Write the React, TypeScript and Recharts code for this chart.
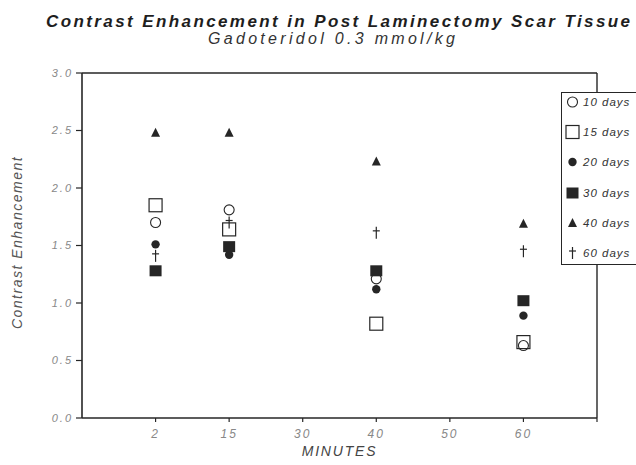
import React from "react";
import {
    ScatterChart,
    Scatter,
    XAxis,
    YAxis,
    Legend,
    ReferenceLine,
} from "recharts";

// x axis categories (minutes after injection)
const minuteLabels = ["2", "15", "30", "40", "50", "60"];
// minutes at which measurements were taken
const sampledMinutes = ["2", "15", "40", "60"];

// contrast enhancement per post-op interval
const days10 = [1.7, 1.81, 1.21, 0.63];
const days15 = [1.85, 1.64, 0.82, 0.66];
const days20 = [1.51, 1.42, 1.12, 0.89];
const days30 = [1.28, 1.49, 1.28, 1.02];
const days40 = [2.48, 2.48, 2.23, 1.69];
const days60 = [1.41, 1.7, 1.61, 1.45];

const yTicks = [0, 0.5, 1, 1.5, 2, 2.5, 3];

const INK = "#262626";
const FONT = "'Liberation Sans', Arial, sans-serif";

type Marker = "openCircle" | "openSquare" | "dot" | "square" | "triangle" | "dagger";

const drawMarker = (kind: Marker, cx: number, cy: number) => {
    switch (kind) {
        case "openCircle":
            return <circle cx={cx} cy={cy} r={5} fill="none" stroke={INK} strokeWidth={1.1} />;
        case "openSquare":
            return <rect x={cx - 6.5} y={cy - 6.5} width={13} height={13} fill="none" stroke={INK} strokeWidth={1.2} />;
        case "dot":
            return <circle cx={cx} cy={cy} r={4.2} fill={INK} />;
        case "square":
            return <rect x={cx - 6} y={cy - 5.5} width={12} height={11} fill={INK} />;
        case "triangle":
            return (
                <polygon
                    points={`${cx},${cy - 5} ${cx - 4.5},${cy + 4} ${cx + 4.5},${cy + 4}`}
                    fill={INK}
                />
            );
        case "dagger":
            return (
                <g stroke={INK} strokeWidth={1.2}>
                    <line x1={cx} y1={cy - 6} x2={cx} y2={cy + 6} />
                    <line x1={cx - 3.5} y1={cy - 2} x2={cx + 3.5} y2={cy - 2} />
                </g>
            );
    }
};

const toPoints = (vals: number[]) =>
    sampledMinutes.map((m, i) => ({ x: minuteLabels.indexOf(m) + 1, y: vals[i] }));

const series: { name: string; marker: Marker; values: number[] }[] = [
    { name: "10 days", marker: "openCircle", values: days10 },
    { name: "15 days", marker: "openSquare", values: days15 },
    { name: "20 days", marker: "dot", values: days20 },
    { name: "30 days", marker: "square", values: days30 },
    { name: "40 days", marker: "triangle", values: days40 },
    { name: "60 days", marker: "dagger", values: days60 },
];

const LegendBox = () => (
    <div
        style={{
            position: "relative",
            width: 75,
            height: 173,
            boxSizing: "border-box",
            border: `1.5px solid ${INK}`,
            borderRight: "none",
            background: "#fff",
            overflow: "hidden",
        }}
    >
        {series.map((s, i) => (
            <div
                key={s.name}
                style={{
                    position: "absolute",
                    left: 0,
                    top: 1 + i * 30.2,
                    height: 16,
                    display: "flex",
                    alignItems: "center",
                    whiteSpace: "nowrap",
                }}
            >
                <svg width={21} height={16} style={{ flex: "none" }}>
                    {drawMarker(s.marker, 10.5, 8)}
                </svg>
                <span
                    style={{
                        fontFamily: FONT,
                        fontStyle: "italic",
                        fontSize: 11.5,
                        letterSpacing: 1,
                        lineHeight: "16px",
                        color: "#333",
                    }}
                >
                    {s.name}
                </span>
            </div>
        ))}
    </div>
);

const YLabel = (props: any) => {
    const { viewBox } = props;
    const cy = viewBox.y + viewBox.height / 2 - 3;
    return (
        <text
            x={17}
            y={cy}
            transform={`rotate(-90, 17, ${cy})`}
            textAnchor="middle"
            dominantBaseline="central"
            fontFamily={FONT}
            fontStyle="italic"
            fontSize={14}
            letterSpacing={1.5}
            fill="#555"
        >
            Contrast Enhancement
        </text>
    );
};

const tickStyle = {
    fontFamily: FONT,
    fontStyle: "italic",
    fontSize: 12,
    letterSpacing: 2,
    fill: "#888",
};

export default function App() {
    return (
        <div style={{ position: "absolute", left: 0, top: 0, width: 636, height: 465, overflow: "hidden", background: "#fff" }}>
            <div
                style={{
                    position: "absolute",
                    left: 46,
                    top: 12,
                    fontFamily: FONT,
                    fontStyle: "italic",
                    fontWeight: "bold",
                    fontSize: 17,
                    letterSpacing: 2.4,
                    lineHeight: "20px",
                    color: "#1e1e1e",
                    whiteSpace: "nowrap",
                    zIndex: 2,
                }}
            >
                Contrast Enhancement in Post Laminectomy Scar Tissue
            </div>
            <div
                style={{
                    position: "absolute",
                    left: 208,
                    top: 29,
                    fontFamily: FONT,
                    fontStyle: "italic",
                    fontSize: 16,
                    letterSpacing: 3.3,
                    lineHeight: "20px",
                    color: "#333",
                    whiteSpace: "nowrap",
                    zIndex: 2,
                }}
            >
                Gadoteridol 0.3 mmol/kg
            </div>
            <ScatterChart
                width={636}
                height={465}
                margin={{ top: 73, right: 39, bottom: 17, left: 22 }}
            >
                <XAxis
                    type="number"
                    dataKey="x"
                    domain={[0, 7]}
                    ticks={[1, 2, 3, 4, 5, 6, 7]}
                    tickFormatter={(v: number) => minuteLabels[v - 1] ?? ""}
                    height={30}
                    tickSize={4}
                    tickMargin={7}
                    axisLine={{ stroke: INK, strokeWidth: 1.6 }}
                    tickLine={{ stroke: INK, strokeWidth: 1.2 }}
                    tick={tickStyle}
                    label={{
                        value: "MINUTES",
                        position: "bottom",
                        offset: -2,
                        style: {
                            fontFamily: FONT,
                            fontStyle: "italic",
                            fontSize: 14,
                            letterSpacing: 1.8,
                            fill: "#444",
                        },
                    }}
                />
                <YAxis
                    type="number"
                    dataKey="y"
                    domain={[0, 3]}
                    ticks={yTicks}
                    tickFormatter={(v: number) => v.toFixed(1)}
                    width={60}
                    tickSize={6}
                    tickMargin={3}
                    axisLine={{ stroke: INK, strokeWidth: 1.6 }}
                    tickLine={{ stroke: INK, strokeWidth: 1.2 }}
                    tick={{ ...tickStyle, fontSize: 11 }}
                    label={{ content: YLabel }}
                />
                <ReferenceLine y={3} stroke={INK} strokeWidth={1.4} ifOverflow="visible" />
                <ReferenceLine x={7} stroke={INK} strokeWidth={1.4} ifOverflow="visible" />
                {series.map((s) => (
                    <Scatter
                        key={s.name}
                        name={s.name}
                        data={toPoints(s.values)}
                        isAnimationActive={false}
                        shape={(p: any) => drawMarker(s.marker, p.cx, p.cy)}
                    />
                ))}
                <Legend
                    layout="horizontal"
                    align="center"
                    verticalAlign="middle"
                    content={() => <LegendBox />}
                    wrapperStyle={{ position: "absolute", left: 561, top: 92, width: 75, height: 173, bottom: "auto", right: "auto" }}
                />
            </ScatterChart>
        </div>
    );
}
